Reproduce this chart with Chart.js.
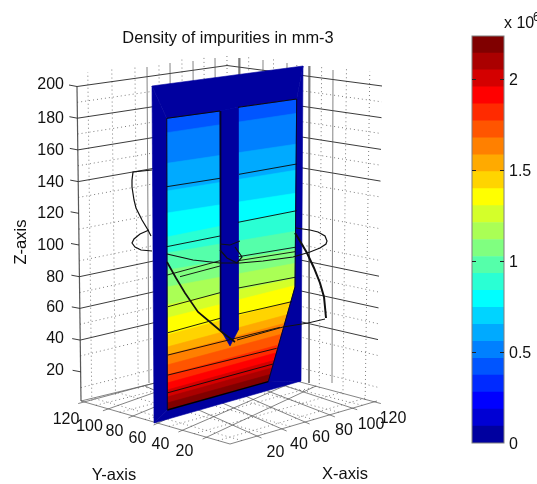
<!DOCTYPE html>
<html>
<head>
<meta charset="utf-8">
<style>
html,body{margin:0;padding:0;background:#fff;overflow:hidden}
#wrap{position:relative;width:537px;height:484px}
canvas{position:absolute;top:0}
#main{left:0}
#bar{left:440px}
</style>
<script src="https://cdn.jsdelivr.net/npm/chart.js@4"></script>
</head>
<body>
<div id="wrap">
<canvas id="main" width="537" height="484"></canvas>
<canvas id="bar" width="97" height="484"></canvas>
</div>
<script>
// ---------- values ----------
const chartTitle = "Density of impurities in mm-3";
const zTicks = [20,40,60,80,100,120,140,160,180,200];
const yTicks = [20,40,60,80,100,120];
const xTicks = [20,40,60,80,100,120];
const colorbarTicks = [0,0.5,1,1.5,2];
const colorbarMax = 2.236;
const jet24 = ["#00009F","#0000D4","#0000FF","#002AFF","#0055FF","#0080FF","#00AAFF","#00D4FF","#00FFFF","#2AFFD4","#55FFAA","#80FF80","#AAFF55","#D4FF2A","#FFFF00","#FFD400","#FFAA00","#FF8000","#FF5500","#FF2A00","#FF0000","#D40000","#AA0000","#800000"];

// box corners in the projected view plane
const cornerLeftTop=[77,86.5], cornerLeftBot=[81,403.5];
const cornerBackTop=[227,65.5], cornerBackBot=[229,365];
const cornerRightTop=[382,86], cornerRightBot=[377,403];
const floorFront=[230,444], floorLeft=[81,401], floorRight=[377,401], floorBack=[229,365];

const solidZLeft=[200,180,160,140,80,60,40];
const solidZRight=[200,180,160,140,80,60,40];
const dottedZ=[10,30,50,70,90,110,130,150,170,190];
const dottedLeftU=[0.073,0.233,0.387,0.547,0.7,0.847,1];
const dottedRightU=[0.14,0.30,0.45,0.61,0.77,0.92];
const dottedFloor=[0.08,0.24,0.41,0.57,0.74,0.9];

const solidVertX=[147,170,193,215,240,263,287,310,333];
const solidVertTop=[67,63,61,58,58,60,63,66,70];
const solidVertBottom=[383,383,383,383,383,383,383,383,383];

// floor lines: start on the front edge, end far side
const floorYStart=[[207,437],[183,430],[158,423],[133,416],[108,409],[84,402]];
const floorYEnd=[[316,386],[298,380],[268,372],[249,368],[235,364],[229,363]];
const floorXStart=[[257,436],[282,429],[305,422],[330,415],[352,408],[375,402]];
const floorXEnd=[[145,386],[165,378],[190,372],[208,368],[222,365],[229,363]];

// plate
const plateA=[152,86], plateB=[303,66], plateC=[301,381], plateD=[154,423];
const holeTL=[166.7,118.3], holeBL=[167.3,410], holeBR=[268.3,381.7], holeKnee=[295,287], holeTR=[296.7,99];
const slotTL=[220,111], slotTR=[238,107.3], slotRB=[238.3,330], slotTip=[230,346], slotLB=[220.7,330];

// colour levels across the panel: y on the left edge and y on the right edge
const bandLeftX=167, bandRightX=297;
const bandLeftY=[118,132.7,163.3,191,213,237,253,270,287,305,318,335,347,355,365,375,383,390,397,403,410];
const bandRightY=[99,113.3,144,170,193,210.7,231,249,263,278,285,300,312,320,330,340,347,354,361,367,373.7];
const firstBandColor=4;

const contourLines=[
 [[166.7,186.7],[220,178.3]],[[239,174.3],[296.7,164]],
 [[166.7,246.7],[220,236]],[[238,222.3],[296.7,210.7]],
 [[167.3,275],[220,260.7]],[[238.3,256.7],[295,247.3]],
 [[180,276.7],[220,266]],[[238.3,260.7],[295,251.7]],
 [[168,306.7],[220,292.7]],[[238.3,288],[295,277.3]],
 [[168,332.7],[220,318.3]],[[238.3,314],[291.7,301.7]],
 [[168,355],[280,327.3]],
 [[168,375],[276.7,348.3]],
 [[168,392.7],[273,364]]
];
const trajLeftTop=[[152,170],[133,172],[132,180],[132,187],[134,200],[136,208],[142,220],[148,230],[151,236]];
const trajLeftLoop=[[149,230],[140,234],[134,239],[132,243],[135,247],[141,250],[152,251]];
const trajMain=[[167,254],[180,257],[193,260],[220,263],[240,263],[263,261],[293,257],[310,252],[320,248],[326,244],[327,241],[325,236],[318,232],[310,230],[296,228]];
const trajRight=[[295,233],[300,241],[307,253],[314,268],[320,283],[324,297],[325,307],[326,318]];
const trajReturn=[[325,319],[308,323],[283,327],[237,340]];
const trajDiag=[[167,262],[176,278],[185,293],[198,312],[210,322],[223,333],[235,342]];
const trajSlotA=[[220,244],[230,245],[240,241]];
const trajSlotB=[[235,247],[242,257],[237,263],[227,258],[220,250]];

// label positions in the view plane
const zLabelY=[369,337,306,276,244,212,181,149,117,83];
const yLabelPos=[[184.5,450],[160.5,443],[137.5,437],[114.5,430],[89.5,425],[66,418]];
const xLabelPos=[[275.5,451],[299,443],[321,436],[344,429],[371,423],[393,417]];
const textDrop=1.5;

// ---------- helpers ----------
const lerp=(a,b,t)=>[a[0]+(b[0]-a[0])*t,a[1]+(b[1]-a[1])*t];
const leftEdge=z=>lerp(cornerLeftBot,cornerLeftTop,z/200);
const backEdge=z=>lerp(cornerBackBot,cornerBackTop,z/200);
const rightEdge=z=>lerp(cornerRightBot,cornerRightTop,z/200);
const floorPt=(u,v)=>lerp(lerp(floorFront,floorRight,u),lerp(floorLeft,floorBack,u),v);
const pts=a=>a.map(p=>({x:p[0],y:p[1]}));

const sets=[];
const DOT="#7d7d7d", SOLID="rgba(25,25,25,0.85)", GRID="rgba(80,80,80,0.7)";
function line(a,color,width,dash){
  sets.push({data:pts(a),showLine:true,fill:false,borderColor:color,borderWidth:width||1,borderDash:dash||[],pointRadius:0,tension:0});
}
function poly(a,color){
  sets.push({data:pts(a.concat([a[0]])),showLine:true,fill:'shape',backgroundColor:color,borderColor:color,borderWidth:0.6,pointRadius:0,tension:0});
}

// dotted grid
const D=[1,3];
dottedFloor.forEach(t=>{
  line([floorPt(t,0),floorPt(t,1)],DOT,1,D);
  line([floorPt(0,t),floorPt(1,t)],DOT,1,D);
});
dottedZ.forEach(z=>{
  line([leftEdge(z),backEdge(z)],DOT,1,D);
  line([backEdge(z),rightEdge(z)],DOT,1,D);
});
dottedLeftU.forEach(u=>line([lerp(leftEdge(0),backEdge(0),u),lerp(leftEdge(208),backEdge(208),u)],DOT,1,D));
dottedRightU.forEach(u=>line([lerp(backEdge(0),rightEdge(0),u),lerp(backEdge(208),rightEdge(208),u)],DOT,1,D));

// solid grid
solidZLeft.forEach(z=>line([leftEdge(z),backEdge(z)],SOLID,1));
solidZRight.forEach(z=>line([backEdge(z),rightEdge(z)],SOLID,1));
solidVertX.forEach((x,i)=>line([[x,solidVertTop[i]],[x+(i<4?2:-1),solidVertBottom[i]]],GRID,1));
floorYStart.forEach((s,i)=>line([lerp(s,floorYEnd[i],-0.04),floorYEnd[i]],GRID,1));
floorXStart.forEach((s,i)=>line([lerp(s,floorXEnd[i],-0.04),floorXEnd[i]],GRID,1));
line([floorLeft,floorFront,floorRight],GRID,1);
line([floorLeft,floorBack],GRID,1);
line([cornerLeftTop,floorLeft],"rgba(70,70,70,0.9)",1.2);
zTicks.forEach(z=>{const p=leftEdge(z);line([[p[0]-8,p[1]-1.5],p],SOLID,1);});

// trajectory parts behind/left of the plate
line(trajLeftTop,"#111",1.2);
line(trajLeftLoop,"#111",1.2);

// colour panel
bandLeftY.slice(0,-1).forEach((yl,i)=>{
  const n=bandLeftY.length-1;
  poly([[bandLeftX,yl],[bandRightX,bandRightY[i]],[bandRightX,bandRightY[n]],[bandLeftX,bandLeftY[n]]],jet24[firstBandColor+i]);
});
// plate around the panel
const P=jet24[0];
poly([plateA,plateB,holeTR,slotTR,slotTL,holeTL],P);
poly([plateA,holeTL,holeBL,plateD],P);
poly([plateD,holeBL,holeBR,plateC],P);
poly([plateB,plateC,holeBR,holeKnee,holeTR],P);
poly([slotTL,slotTR,slotRB,slotTip,slotLB],P);

// contours and outlines
contourLines.forEach(c=>line(c,"rgba(10,10,10,0.9)",1));
line([holeTL,slotTL],"#0a0a0a",1);
line([slotTR,holeTR],"#0a0a0a",1);
line([holeBL,holeBR],"#000",1.3);
line([holeTL,holeBL],"#05052a",1);
line([slotTL,slotLB],"#05052a",1);
line([holeTR,holeKnee,holeBR],"#05052a",1);

// visible trajectory
line(trajMain,"#111",1.2);
line(trajRight,"#111",2);
line(trajReturn,"#111",1);
line(trajDiag,"#111",1.7);
line(trajSlotA,"#111",1);
line(trajSlotB,"#111",1.2);

// first dataset is painted last, so hand them over in reverse
sets.reverse();

const FONT='"Liberation Sans", Arial, sans-serif';
const textPlugin={
  id:'axisText',
  afterDraw(c){
    const {ctx,scales:{x,y}}=c;
    const put=(s,px,py,size,align,rot)=>{
      ctx.save();
      ctx.font=size+'px '+FONT;ctx.fillStyle='#111';ctx.textAlign=align||'center';ctx.textBaseline='middle';
      ctx.translate(x.getPixelForValue(px),y.getPixelForValue(py+(rot?0:textDrop)));
      if(rot)ctx.rotate(rot);
      ctx.fillText(s,0,0);ctx.restore();
    };
    put(chartTitle,228,37,16.4);
    zTicks.forEach((t,i)=>put(String(t),64,zLabelY[i],16,'right'));
    yTicks.forEach((t,i)=>put(String(t),yLabelPos[i][0],yLabelPos[i][1],16));
    xTicks.forEach((t,i)=>put(String(t),xLabelPos[i][0],xLabelPos[i][1],16));
    put("Z-axis",21,242,16.5,'center',-Math.PI/2);
    put("Y-axis",114,474,16.5);
    put("X-axis",345,473,16.5);
  }
};
new Chart(document.getElementById('main'),{
  type:'scatter',
  data:{datasets:sets},
  plugins:[textPlugin],
  options:{
    responsive:false,animation:false,
    layout:{padding:0},
    plugins:{legend:{display:false},tooltip:{enabled:false},title:{display:false}},
    scales:{
      x:{type:'linear',min:0,max:537,display:false},
      y:{type:'linear',min:0,max:484,reverse:true,display:false}
    }
  }
});

// ---------- colour bar ----------
const bandHeight=colorbarMax/jet24.length;
const barPlugin={
  id:'barFrame',
  afterDraw(c){
    const {ctx,chartArea:a,scales:{y}}=c;
    ctx.save();
    ctx.strokeStyle='#7f7f7f';ctx.lineWidth=1;
    ctx.strokeRect(a.left,a.top,a.right-a.left,a.bottom-a.top);
    ctx.strokeStyle='#222';
    colorbarTicks.slice(1).forEach(t=>{
      const p=Math.round(y.getPixelForValue(t))+0.5;
      ctx.beginPath();ctx.moveTo(a.left,p);ctx.lineTo(a.left+4,p);ctx.moveTo(a.right-4,p);ctx.lineTo(a.right,p);ctx.stroke();
    });
    ctx.fillStyle='#111';ctx.textBaseline='middle';ctx.textAlign='left';
    ctx.font='16px '+FONT;ctx.fillText('x 10',64,24);
    ctx.font='12px '+FONT;ctx.fillText('6',93,18);
    ctx.restore();
  }
};
new Chart(document.getElementById('bar'),{
  type:'bar',
  data:{labels:['density'],datasets:jet24.map(col=>({data:[bandHeight],backgroundColor:col,borderWidth:0,barPercentage:1,categoryPercentage:1,stack:'s'}))},
  plugins:[barPlugin],
  options:{
    responsive:false,animation:false,
    layout:{padding:{left:32,top:36,bottom:41,right:0}},
    plugins:{legend:{display:false},tooltip:{enabled:false}},
    scales:{
      x:{display:false,stacked:true},
      y:{stacked:true,position:'right',min:0,max:colorbarMax,
         afterFit(s){s.width=33;},
         afterBuildTicks(s){s.ticks=colorbarTicks.map(v=>({value:v}));},
         border:{display:false},
         grid:{display:false,drawTicks:false},
         ticks:{color:'#111',padding:5,labelOffset:2,font:{size:16,family:FONT},callback:v=>String(v),autoSkip:false,maxRotation:0}
      }
    }
  }
});
</script>
</body>
</html>
